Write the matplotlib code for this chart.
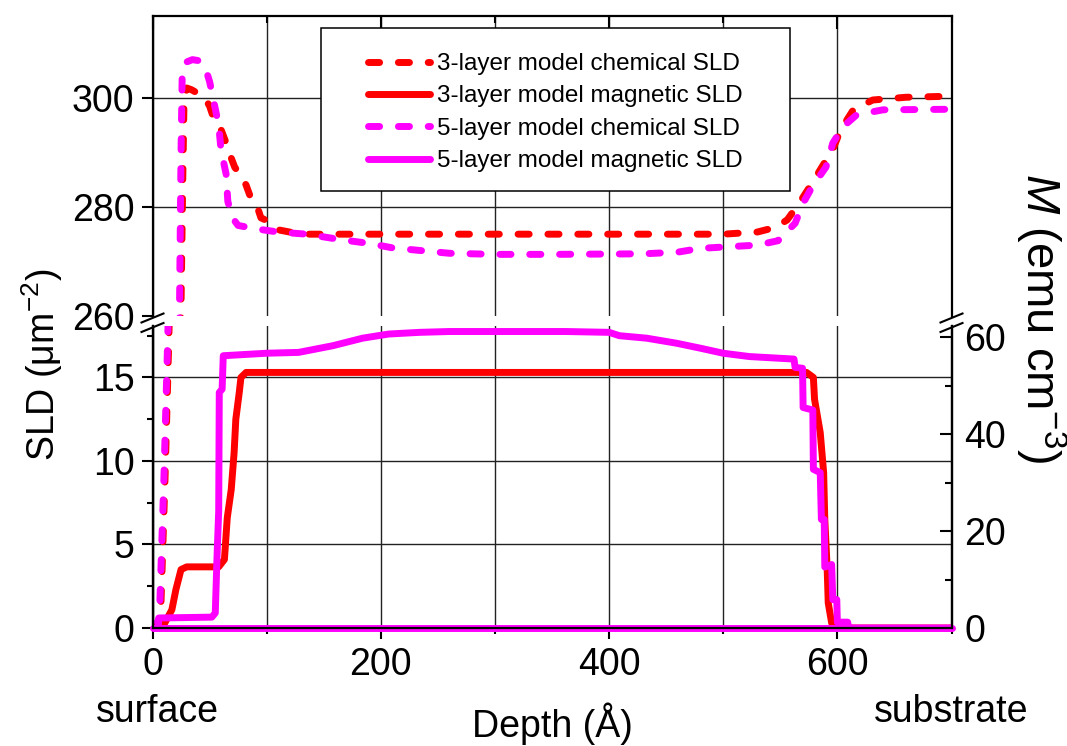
import matplotlib.pyplot as plt
from matplotlib.patches import Rectangle
from matplotlib.lines import Line2D

plt.rcParams['font.family'] = ['Liberation Sans', 'DejaVu Sans']
plt.rcParams['mathtext.fontset'] = 'custom'
plt.rcParams['mathtext.rm'] = 'Liberation Sans'
plt.rcParams['mathtext.it'] = 'Liberation Sans:italic'
plt.rcParams['mathtext.default'] = 'regular'

RED = '#FF0000'
MAGENTA = '#FF00FF'

# ---- data (depth in Angstrom) ----
# 3-layer model chemical SLD
chem3_depth = [0, 3, 7, 11, 14, 16, 19, 22, 25, 26.5, 27.5, 30, 34, 45, 50, 54, 60, 64,
               68, 72, 78, 82, 86, 91, 95, 100, 110, 130, 200, 300, 400, 500, 530, 545,
               556, 566, 578, 587, 596, 603, 614, 631, 660, 700]
chem3_sld = [0, 0.1, 0.6, 9, 16.5, 22, 60, 150, 262, 285, 298, 301.8, 301.5, 300.2, 298.5,
             296, 294.2, 292, 289.5, 287.3, 285.5, 284, 281.7, 280.5, 278, 277.5, 275.8,
             275, 275, 275, 275, 275, 275.4, 276.2, 277.6, 280.5, 284.4, 287.5, 290.5,
             294.2, 297.8, 299.6, 300.1, 300.3]

# 5-layer model chemical SLD
chem5_depth = [0, 3, 6, 10, 13, 15, 18, 21, 23.5, 25, 26, 29, 35, 41, 47, 50, 54, 58, 60,
               64.5, 66, 70, 75, 90, 110, 135, 165, 190, 210, 235, 260, 300, 350, 430, 460,
               480, 505, 530, 548, 555, 563, 570, 578, 590, 596, 605, 617, 640, 700]
chem5_sld = [0, 0.2, 0.6, 9, 16.5, 22, 60, 170, 258, 290, 304, 306.5, 307, 306.8, 305,
             303, 299, 295, 290.5, 286, 281, 278, 276.6, 276, 275.4, 275, 274, 273.3, 272.5,
             272, 271.5, 271.3, 271.3, 271.4, 271.7, 272.4, 272.7, 273, 273.8, 275.3, 277,
             280.7, 283.7, 287.3, 291.7, 294.7, 296.9, 297.8, 297.9]

# 3-layer model magnetic SLD
mag3_depth = [0, 10, 17, 20.5, 25, 30, 58, 63, 65.5, 69, 71.5, 73, 76, 77.5, 82, 573,
              579, 580, 585, 588, 589, 591, 592, 595, 598, 700]
mag3_sld = [0, 0.2, 1.1, 2.3, 3.5, 3.66, 3.66, 4.1, 6.6, 8.3, 10.5, 12.5, 14.1, 15.0,
            15.3, 15.3, 15.0, 13.7, 11.7, 9.3, 6.5, 3.7, 1.5, 0.3, 0, 0]

# 5-layer model magnetic SLD
mag5_depth = [0, 5, 5.5, 52, 55, 56.5, 58, 58.5, 61, 62, 100, 128, 158, 184, 207, 234,
              260, 362, 400, 409, 433, 459, 480, 500, 523, 562, 563, 569.5, 570, 578.5,
              579, 585, 586, 588.5, 589, 595, 596, 599.5, 600, 609, 610, 700]
mag5_sld = [0, 0, 0.6, 0.65, 0.9, 4.2, 7, 14.1, 14.3, 16.3, 16.45, 16.5, 16.9, 17.35,
            17.6, 17.7, 17.75, 17.75, 17.7, 17.5, 17.35, 17.05, 16.75, 16.45, 16.25, 16.1,
            15.6, 15.55, 13.2, 13.05, 9.5, 9.3, 6.5, 6.5, 3.65, 3.8, 1.7, 1.7, 0.35, 0.35,
            0, 0]

# magnetisation axis series (zero line)
m_depth = [0, 700]
m_value = [0, 0]

labels = ['3-layer model chemical SLD', '3-layer model magnetic SLD',
          '5-layer model chemical SLD', '5-layer model magnetic SLD']

# ---- layout (pixel based) ----
W, H = 1067, 746
fig = plt.figure(figsize=(W / 100, H / 100), dpi=100)


def fx(px):
    return px / W


def fy(py):
    return 1 - py / H


L, R = 152.5, 951.5
ax_top = fig.add_axes([fx(L), fy(316), fx(R) - fx(L), fy(16) - fy(316)])
ax_bot = fig.add_axes([fx(L), fy(628), fx(R) - fx(L), fy(326) - fy(628)])

LW = 5
dash = dict(dashes=(1.6, 2.7), dash_capstyle='round')

for ax in (ax_top, ax_bot):
    h1, = ax.plot(chem3_depth, chem3_sld, color=RED, lw=LW, **dash)
    h3, = ax.plot(chem5_depth, chem5_sld, color=MAGENTA, lw=LW, **dash)
    ax.set_xlim(0, 700)
    ax.set_xticks([0, 200, 400, 600])
    ax.set_xticks([100, 300, 500, 700], minor=True)
    ax.set_axisbelow(True)
    ax.grid(True, which='both', axis='x', color='#222222', lw=1.0)
    ax.grid(True, which='major', axis='y', color='#222222', lw=1.0)
    for s in ax.spines.values():
        s.set_linewidth(1.6)

h2, = ax_bot.plot(mag3_depth, mag3_sld, color=RED, lw=LW, solid_capstyle='round')
h4, = ax_bot.plot(mag5_depth, mag5_sld, color=MAGENTA, lw=LW, solid_capstyle='round')

# top panel
ax_top.set_ylim(260, 315)
ax_top.set_yticks([260, 280, 300])
ax_top.yaxis.get_major_ticks()[0].gridline.set_visible(False)
ax_top.spines['bottom'].set_visible(False)
ax_top.tick_params(axis='x', which='both', bottom=False, labelbottom=False, top=True,
                   direction='in', width=1.5)
ax_top.tick_params(axis='x', which='major', length=9.5)
ax_top.tick_params(axis='x', which='minor', length=5)
ax_top.tick_params(axis='y', which='major', direction='out', length=8, width=1.5,
                   labelsize=27, pad=5, right=False)

# bottom panel
ax_bot.set_ylim(0, 18.08)
ax_bot.set_yticks([0, 5, 10, 15])
ax_bot.set_yticks([2.5, 7.5, 12.5, 17.5], minor=True)
ax_bot.spines['top'].set_visible(False)
ax_bot.tick_params(axis='both', which='both', direction='out', width=1.5, labelsize=27,
                   top=False)
ax_bot.tick_params(axis='both', which='major', length=8)
ax_bot.tick_params(axis='both', which='minor', length=4.5)
ax_bot.tick_params(axis='x', pad=6)
ax_bot.tick_params(axis='y', pad=5)

ax_m = ax_bot.twinx()
ax_m.plot(m_depth, m_value, color=MAGENTA, lw=LW, solid_capstyle='round', clip_on=False)
ax_m.set_ylim(0, 62.27)
ax_m.set_yticks([0, 20, 40, 60])
ax_m.set_yticks([10, 30, 50], minor=True)
ax_m.spines['top'].set_visible(False)
for s in ax_m.spines.values():
    s.set_linewidth(1.6)
ax_m.tick_params(axis='y', which='both', direction='in', width=1.5, labelsize=27, pad=9)
ax_m.tick_params(axis='y', which='major', length=8.5)
ax_m.tick_params(axis='y', which='minor', length=5)

# legend with a plain rectangular frame
ax_top.add_patch(Rectangle((fx(321), fy(191)), fx(790) - fx(321), fy(28) - fy(191),
                           transform=fig.transFigure, facecolor='white', edgecolor='black',
                           lw=1.1, zorder=4, clip_on=False))
leg = ax_top.legend([h1, h2, h3, h4], labels, loc='upper left',
                    bbox_to_anchor=(fx(368), fy(53)), bbox_transform=fig.transFigure,
                    frameon=False, fontsize=17.5, handlelength=2.55, handletextpad=0.3,
                    labelspacing=0.43, borderpad=0, borderaxespad=0)
leg.set_zorder(5)

# axis break marks
for xc in (L, R):
    for yc in (318, 327.5):
        fig.add_artist(Line2D([fx(xc - 11), fx(xc + 11)], [fy(yc + 4.5), fy(yc - 4.5)],
                              color='black', lw=1.5))

# labels
fig.text(fx(552), fy(737), 'Depth (Å)', ha='center', va='baseline', fontsize=27)
fig.text(fx(157), fy(722), 'surface', ha='center', va='baseline', fontsize=27)
fig.text(fx(951), fy(722), 'substrate', ha='center', va='baseline', fontsize=27)
fig.text(fx(42), fy(365), 'SLD (μm$^{-2}$)', rotation=90, ha='center', va='center',
         fontsize=27)
fig.text(fx(1041), fy(318), r'$\mathit{M}$ (emu cm$^{-3}$)', rotation=270, ha='center',
         va='center', fontsize=34)

fig.savefig('out.png', dpi=100, facecolor='white')
